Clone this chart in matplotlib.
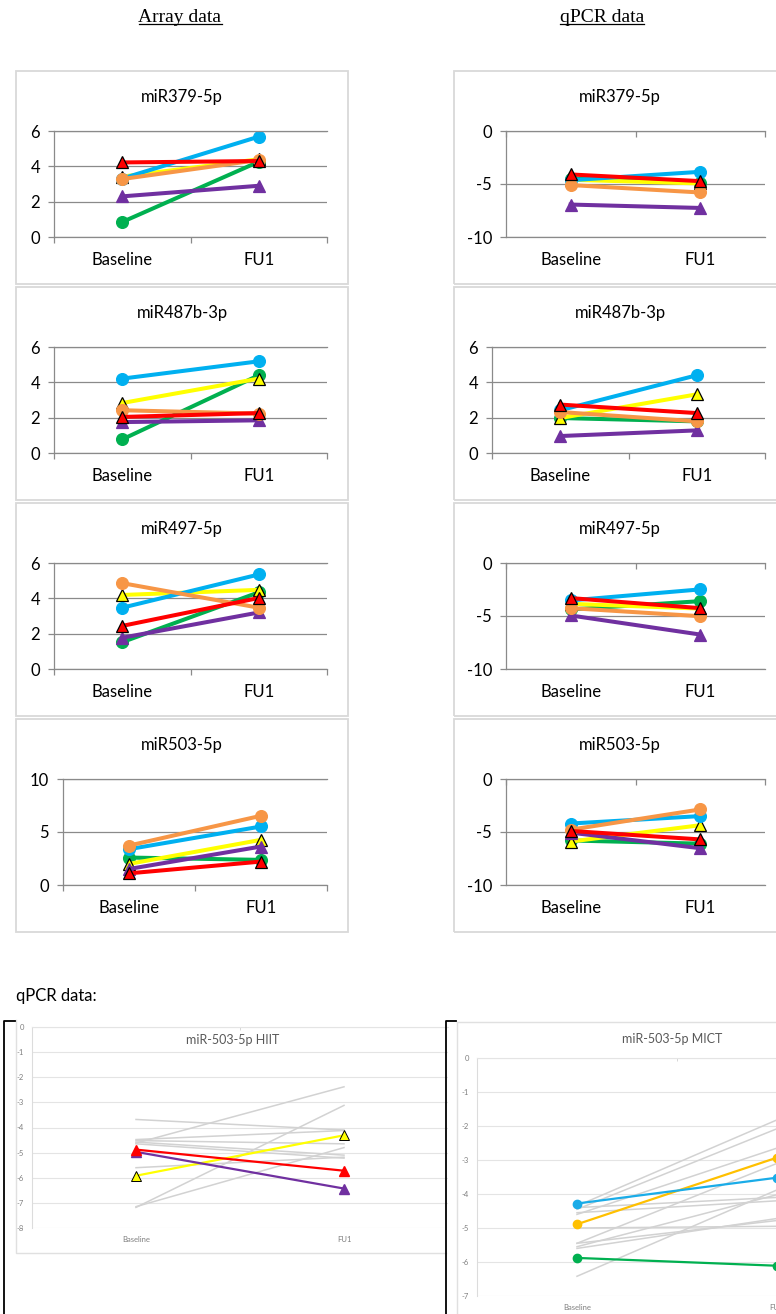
import numpy as np
import matplotlib
matplotlib.use("Agg")
import matplotlib.pyplot as plt
from matplotlib.patches import Rectangle
from matplotlib.lines import Line2D

W, H = 776, 1314
plt.rcParams['font.family'] = ['Lato', 'DejaVu Sans']
plt.rcParams['axes.unicode_minus'] = False

categories = ["Baseline", "FU1"]
mirnas = ["miR379-5p", "miR487b-3p", "miR497-5p", "miR503-5p"]

# array data: [baseline, FU1] per miRNA
array_blue = [[3.31, 5.68], [4.21, 5.19], [3.47, 5.35], [3.38, 5.52]]
array_green = [[0.85, 4.26], [0.77, 4.40], [1.52, 4.34], [2.59, 2.37]]
array_orange = [[3.28, 4.36], [2.42, 2.23], [4.86, 3.47], [3.72, 6.53]]
array_yellow = [[3.42, 4.40], [2.83, 4.21], [4.19, 4.48], [1.99, 4.26]]
array_red = [[4.22, 4.30], [2.04, 2.26], [2.44, 4.02], [1.10, 2.21]]
array_purple = [[2.30, 2.90], [1.75, 1.85], [1.77, 3.20], [1.51, 3.63]]

# qPCR data: [baseline, FU1] per miRNA
qpcr_blue = [[-4.64, -3.85], [2.42, 4.40], [-3.53, -2.49], [-4.20, -3.50]]
qpcr_green = [[-4.50, -4.86], [1.98, 1.79], [-4.38, -3.60], [-5.80, -6.10]]
qpcr_orange = [[-5.10, -5.80], [2.32, 1.79], [-4.26, -5.02], [-4.78, -2.87]]
qpcr_yellow = [[-4.60, -4.95], [1.98, 3.32], [-3.85, -4.30], [-5.90, -4.36]]
qpcr_red = [[-4.10, -4.73], [2.74, 2.26], [-3.31, -4.26], [-4.90, -5.70]]
qpcr_purple = [[-6.94, -7.26], [0.96, 1.28], [-4.95, -6.75], [-5.06, -6.53]]

array_ylim = [(0, 6), (0, 6), (0, 6), (0, 10)]
array_ystep = [2, 2, 2, 5]
qpcr_ylim = [(-10, 0), (0, 6), (-10, 0), (-10, 0)]
qpcr_ystep = [5, 2, 5, 5]

# miR-503-5p per-subject qPCR (screenshots at bottom)
hiit_grey_base = [-3.68, -4.62, -7.18, -7.15, -5.60, -4.48, -4.52, -4.58, -4.65]
hiit_grey_fu1 = [-4.10, -2.38, -3.12, -4.80, -5.18, -4.12, -4.65, -5.10, -5.22]
hiit_red = [-4.88, -5.72]
hiit_purple = [-4.97, -6.43]
hiit_yellow = [-5.92, -4.31]

mict_grey_base = [-4.35, -4.45, -4.60, -5.45, -6.42, -5.55, -4.55, -4.40, -5.45, -5.60, -5.00]
mict_grey_fu1 = [-1.82, -2.08, -2.65, -3.10, -3.88, -4.02, -4.20, -4.10, -4.78, -4.72, -4.95]
mict_blue = [-4.28, -3.52]
mict_gold = [-4.89, -2.93]
mict_green = [-5.88, -6.11]

GREY = '#8a8a8a'
BOX = '#d9d9d9'


def px_rect(x0, y0, x1, y1):
    return [x0 / W, 1 - y1 / H, (x1 - x0) / W, (y1 - y0) / H]


def fig_line(xs, ys, color, lw):
    fig.add_artist(Line2D([x / W for x in xs], [1 - y / H for y in ys],
                          color=color, lw=lw, transform=fig.transFigure))


fig = plt.figure(figsize=(W / 100, H / 100), dpi=100)


def draw_panel(box_x, top, title, ylim, ystep, series, idx):
    fig.add_artist(Rectangle((box_x / W, 1 - (top + 214) / H), 332 / W, 213 / H,
                             transform=fig.transFigure, fill=False, ec=BOX, lw=1.3))
    fig.text((box_x + 166) / W, 1 - (top + 27) / H, title, ha='center', va='center', fontsize=12)
    ticks = np.arange(ylim[0], ylim[1] + ystep, ystep)
    nchar = max(len(str(t)) for t in ticks)
    left = box_x + {1: 38, 2: 47, 3: 52}[nchar]
    ax = fig.add_axes(px_rect(left, top + 61, box_x + 311, top + 167))
    for data, color, marker, ec in series:
        ax.plot([0, 1], data[idx], color=color, lw=2.9, marker=marker, ms=8.5,
                mfc=color, mec=ec, mew=0.9, clip_on=False)
    ax.set_xlim(-0.5, 1.5)
    ax.set_ylim(*ylim)
    ax.set_yticks(ticks)
    ax.set_axisbelow(True)
    ax.yaxis.grid(True, color=GREY, lw=0.9)
    for s in ['left', 'top', 'bottom']:
        ax.spines[s].set_color(GREY)
        ax.spines[s].set_linewidth(0.9)
    ax.spines['right'].set_visible(False)
    ax.set_xticks([0, 1])
    ax.set_xticklabels(categories)
    ax.tick_params(axis='x', which='major', length=0, pad=11, labelsize=12)
    ax.set_xticks([-0.5, 0.5, 1.5], minor=True)
    if ylim[1] == 0:
        ax.tick_params(axis='x', which='minor', bottom=False, top=True,
                       direction='in', length=4, color=GREY, width=0.9)
    else:
        ax.tick_params(axis='x', which='minor', bottom=True, direction='out',
                       length=4, color=GREY, width=0.9)
    ax.tick_params(axis='y', length=4, color=GREY, width=0.9, pad=6, labelsize=12)
    return ax


# drawing order matters for overlaps
array_series = [
    (array_green, '#00B050', 'o', '#00B050'),
    (array_yellow, '#FFFF00', '^', 'black'),
    (array_blue, '#00B0F0', 'o', '#00B0F0'),
    (array_purple, '#7030A0', '^', '#7030A0'),
    (array_orange, '#F79646', 'o', '#F79646'),
    (array_red, '#FF0000', '^', 'black'),
]
qpcr_series = [
    (qpcr_green, '#00B050', 'o', '#00B050'),
    (qpcr_yellow, '#FFFF00', '^', 'black'),
    (qpcr_blue, '#00B0F0', 'o', '#00B0F0'),
    (qpcr_purple, '#7030A0', '^', '#7030A0'),
    (qpcr_orange, '#F79646', 'o', '#F79646'),
    (qpcr_red, '#FF0000', '^', 'black'),
]

row_tops = [70, 286, 502, 718]
for i, top in enumerate(row_tops):
    draw_panel(16, top, mirnas[i], array_ylim[i], array_ystep[i], array_series, i)
    draw_panel(454, top, mirnas[i], qpcr_ylim[i], qpcr_ystep[i], qpcr_series, i)

# headers
headers = []
for x, label in [(180, "Array data"), (602, "qPCR data")]:
    headers.append(fig.text(x / W, 1 - 17 / H, label, ha='center', va='center',
                            fontsize=14, family='Liberation Serif'))
fig.text(16 / W, 1 - 996 / H, "qPCR data:", ha='left', va='center', fontsize=12)


def small_chart(rect, ylim, title, title_xy):
    ax = fig.add_axes(px_rect(*rect))
    ax.set_xlim(-0.5, 1.5)
    ax.set_ylim(*ylim)
    ax.set_yticks(range(ylim[0], ylim[1] + 1))
    ax.set_axisbelow(True)
    ax.yaxis.grid(True, color='#e4e4e4', lw=0.8)
    for s in ['right', 'bottom']:
        ax.spines[s].set_visible(False)
    ax.spines['top'].set_color('#e4e4e4')
    ax.spines['left'].set_color('#dcdcdc')
    ax.set_xticks([0, 1])
    ax.set_xticklabels(categories)
    ax.set_xticks([0.5], minor=True)
    ax.tick_params(axis='x', which='minor', bottom=False, top=True, direction='in',
                   length=2, color='#d0d0d0')
    ax.tick_params(axis='both', which='major', length=0, labelsize=5.5,
                   labelcolor='#7f7f7f')
    ax.tick_params(axis='x', which='major', pad=6)
    ax.tick_params(axis='y', which='major', pad=6)
    fig.text(title_xy[0] / W, 1 - title_xy[1] / H, title, ha='center', va='center',
             fontsize=9, color='#595959')
    return ax


ax_h = small_chart((32, 1027, 448, 1228), (-8, 0), "miR-503-5p HIIT", (233, 1040))
for b, f in zip(hiit_grey_base, hiit_grey_fu1):
    ax_h.plot([0, 1], [b, f], color='#d2d2d2', lw=1.1)
ax_h.plot([0, 1], hiit_yellow, color='#FFFF00', lw=1.6, marker='^', ms=7, mfc='#FFFF00', mec='black', mew=0.7)
ax_h.plot([0, 1], hiit_purple, color='#7030A0', lw=1.6, marker='^', ms=7, mfc='#7030A0', mec='#7030A0')
ax_h.plot([0, 1], hiit_red, color='#FF0000', lw=1.6, marker='^', ms=7, mfc='#FF0000', mec='#FF0000')

ax_m = small_chart((477, 1058, 877, 1296), (-7, 0), "miR-503-5p MICT", (672, 1039))
for b, f in zip(mict_grey_base, mict_grey_fu1):
    ax_m.plot([0, 1], [b, f], color='#d2d2d2', lw=1.1)
ax_m.plot([0, 1], mict_green, color='#00B050', lw=1.6, marker='o', ms=6)
ax_m.plot([0, 1], mict_gold, color='#FFC000', lw=1.6, marker='o', ms=6)
ax_m.plot([0, 1], mict_blue, color='#1AACE8', lw=1.6, marker='o', ms=6)

# chart-area borders and crop frame of the screenshots
fig_line([16, 16, 446], [1020, 1253, 1253], '#e0e0e0', 1.0)
fig_line([457, 457], [1314, 1022], '#e0e0e0', 1.0)
fig_line([457, 776], [1022, 1022], '#e0e0e0', 1.0)
fig_line([15, 4, 4], [1021, 1021, 1314], 'black', 1.3)
fig_line([456, 446, 446], [1021, 1021, 1314], 'black', 1.3)

# underline the headers
fig.canvas.draw()
for t in headers:
    bb = t.get_window_extent()
    fig_line([bb.x0, bb.x1], [24, 24], 'black', 0.9)

fig.savefig("out.png", dpi=100)
